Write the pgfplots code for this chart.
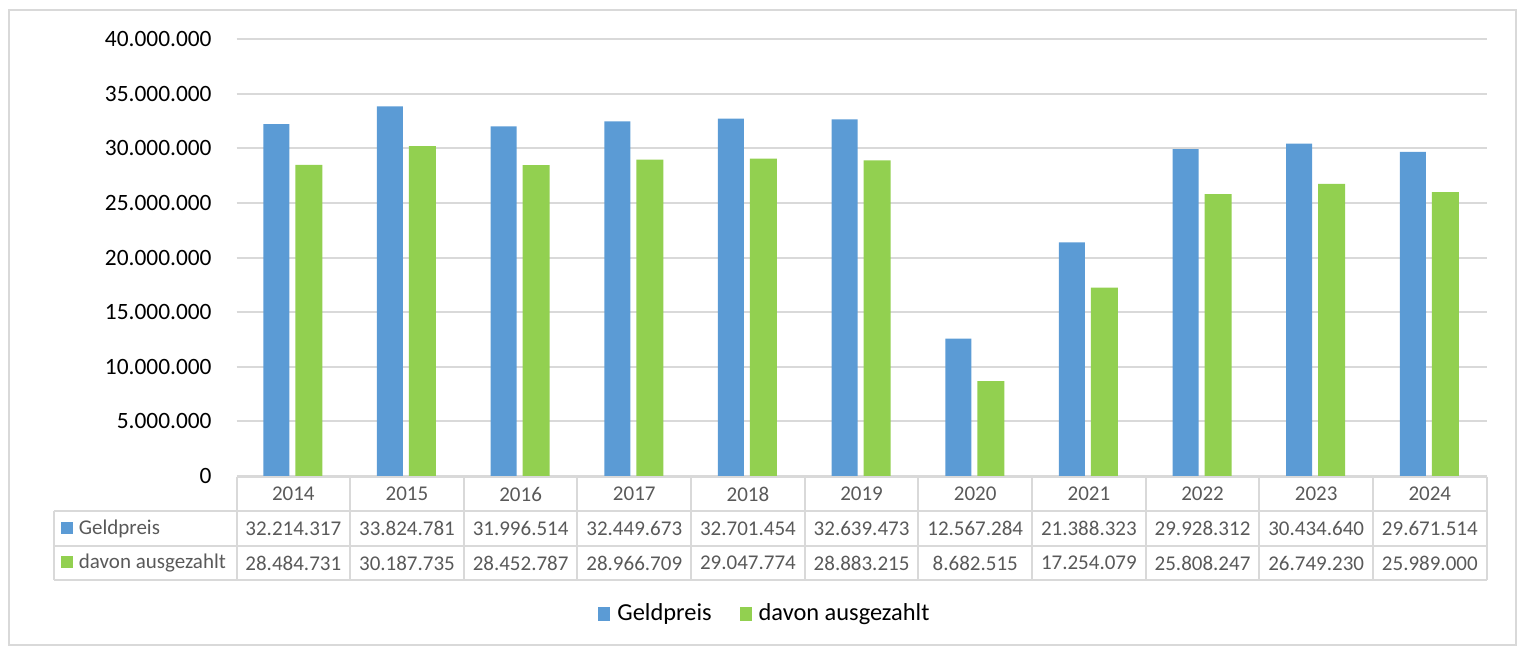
\documentclass[border=0pt]{standalone}
\usepackage{pgfplots}
\pgfplotsset{compat=1.18}
\usepackage{pgfplotstable}
\usepackage{fontspec}
\setmainfont{Carlito}
\definecolor{cblue}{HTML}{5B9BD5}
\definecolor{cgreen}{HTML}{92D050}
\definecolor{cgrid}{HTML}{D9D9D9}
\definecolor{ctxt}{HTML}{595959}

\pgfplotstableread{
year geld davon
2014 32214317 28484731
2015 33824781 30187735
2016 31996514 28452787
2017 32449673 28966709
2018 32701454 29047774
2019 32639473 28883215
2020 12567284 8682515
2021 21388323 17254079
2022 29928312 25808247
2023 30434640 26749230
2024 29671514 25989000
}\data

\begin{document}
\begin{tikzpicture}[x=0.5pt,y=-0.5pt]
\useasboundingbox (0,0) rectangle (1520,648);
\draw[cgrid, line width=1pt] (8.5,9.5) rectangle (1515.5,645);
\begin{axis}[
  at={(118.25pt,-238pt)}, anchor=south west,
  scale only axis, width=625.1pt, height=218.5pt,
  xmin=-0.5, xmax=10.5, ymin=0, ymax=40000000,
  axis line style={draw=none},
  ymajorgrids, grid style={cgrid, line width=1pt},
  ytick={0,5000000,...,40000000},
  xtick=\empty,
  scaled y ticks=false,
  tick style={draw=none},
  yticklabel style={anchor=east, inner sep=0pt, xshift=-12.25pt, font=\fontsize{11.7pt}{13pt}\selectfont, text=black,
     /pgf/number format/.cd, fixed, precision=0, 1000 sep={.}, assume math mode=true},
  major tick length=0pt,
  clip=false,
  legend style={at={(axis description cs:0.4235,-0.3158)}, anchor=center, draw=none, fill=none,
     font=\fontsize{12.2pt}{14pt}\selectfont, text=black, legend columns=2,
     /tikz/every odd column/.append style={column sep=1.5pt},
     /tikz/every even column/.append style={column sep=12pt},
     inner sep=0pt},
  legend image code/.code={\draw[#1,draw=none] (0pt,-3.3pt) rectangle (6pt,3.7pt);},
]
\addplot[ybar, bar width=13pt, bar shift=-8.5pt, fill=cblue, draw=none] table[x expr=\coordindex, y=geld]{\data};
\addlegendentry{Geldpreis}
\addplot[ybar, bar width=13.5pt, bar shift=7.75pt, fill=cgreen, draw=none] table[x expr=\coordindex, y=davon]{\data};
\addlegendentry{davon ausgezahlt}
\end{axis}
% data table
\begin{scope}[cgrid, line width=1pt]
  \draw (236.5,476.5) -- (1486.7,476.5);
  \foreach \yy in {511,545.5,580} \draw (54,\yy) -- (1486.7,\yy);
  \draw (54,511) -- (54,580);
  \foreach \k in {0,...,11} {
    \pgfmathsetmacro{\xx}{236.5+113.65*\k}
    \draw (\xx,476.5) -- (\xx,580);
  }
\end{scope}
\pgfkeys{/pgf/number format/.cd, fixed, precision=0, 1000 sep={.}, assume math mode=true}
\begin{scope}[every node/.style={text=ctxt, font=\fontsize{10.5pt}{12pt}\selectfont, inner sep=0pt}]
  \foreach \k in {0,...,10} {
    \pgfmathsetmacro{\xx}{236.5+113.65*(\k+0.5)}
    \pgfplotstablegetelem{\k}{year}\of\data \let\yr\pgfplotsretval
    \node at (\xx,494) {\yr};
    \pgfplotstablegetelem{\k}{geld}\of\data \let\gv\pgfplotsretval
    \node at (\xx,528.5) {\pgfmathprintnumber{\gv}};
    \pgfplotstablegetelem{\k}{davon}\of\data \let\dv\pgfplotsretval
    \node at (\xx,563) {\pgfmathprintnumber{\dv}};
  }
  \fill[cblue] (61,521.5) rectangle (73,533.5);
  \node[anchor=west] at (78.5,528.5) {Geldpreis};
  \fill[cgreen] (61,556) rectangle (73,568);
  \node[anchor=west] at (78.5,563) {davon ausgezahlt};
\end{scope}
\end{tikzpicture}
\end{document}
